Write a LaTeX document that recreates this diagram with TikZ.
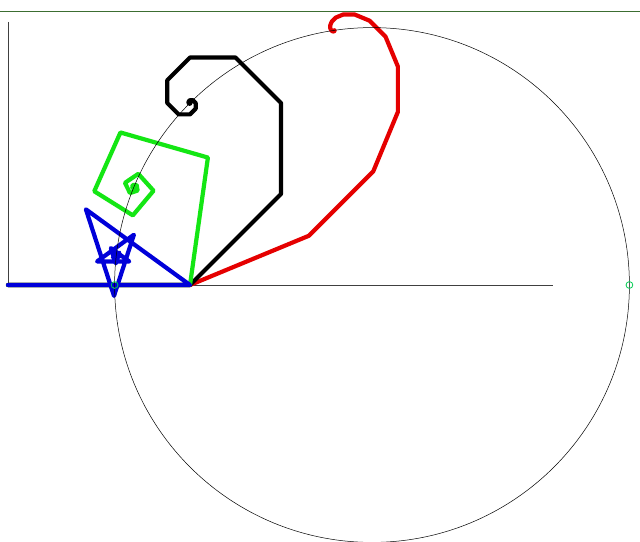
\documentclass[tikz,border=0pt]{standalone}
\usetikzlibrary{calc}
\definecolor{topgreen}{RGB}{60,110,50}
\definecolor{spiralgreen}{RGB}{20,230,20}
\begin{document}
\begin{tikzpicture}[x=1pt,y=1pt,
  spiralline/.style={line width=4.2pt,line join=round,line cap=round},
  axisline/.style={line width=0.9pt,draw=black!75},
  limitmark/.style={draw=green!60!cyan!80!black,line width=0.8pt}]
\useasboundingbox (-8,-256) rectangle (632,285);
\fill[white] (-8,-256) rectangle (632,285);
% top line
\draw[draw=topgreen,line width=1pt] (-8,273) -- (632,273);
% axes
\coordinate (O) at (0,0);
\coordinate (ytop) at (0,263);
\coordinate (xend) at (545,0);
\draw[axisline] (ytop) -- (O) -- (xend);
% spirals z_{k+1} = z_k + 182 r^k e^{i k theta}, r = 1/sqrt(2)
\draw[spiralline,red!90!black] (O) \foreach \k in {0,...,34} { -- ++({182*0.70711^\k*cos(\k*22.5)},{182*0.70711^\k*sin(\k*22.5)}) };
\draw[spiralline,black] (O) \foreach \k in {0,...,34} { -- ++({182*0.70711^\k*cos(\k*45)},{182*0.70711^\k*sin(\k*45)}) };
\draw[spiralline,spiralgreen] (O) \foreach \k in {0,...,34} { -- ++({182*0.70711^\k*cos(\k*82)},{182*0.70711^\k*sin(\k*82)}) };
\draw[spiralline,blue!85!black] (O) \foreach \k in {0,...,34} { -- ++({182*0.70711^\k*cos(\k*144)},{182*0.70711^\k*sin(\k*144)}) };
% limit circle
\coordinate (C) at (364,0);
\draw[line width=0.5pt,black] (C) circle[radius=257.4];
% limit marks at theta = pi and theta = 0
\coordinate (Lpi) at (106.6,0);
\coordinate (Lzero) at (621.4,0);
\draw[limitmark] (Lpi) circle[radius=3.4];
\draw[limitmark] (Lzero) circle[radius=3.4];
\end{tikzpicture}
\end{document}
